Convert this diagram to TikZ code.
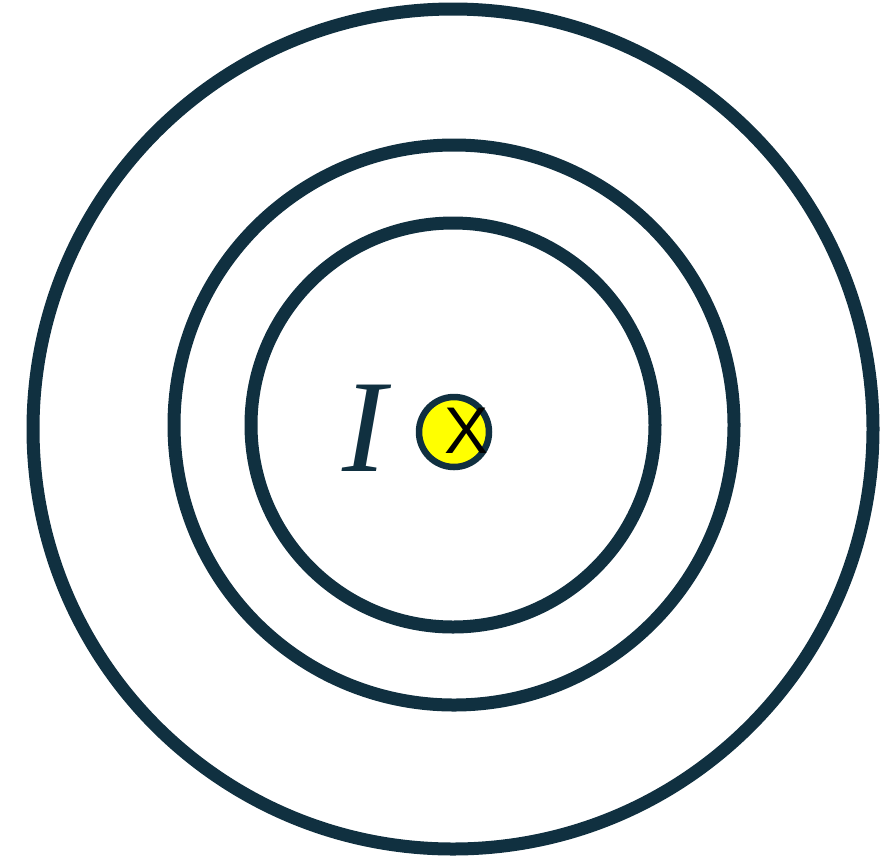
\documentclass[tikz,border=0pt]{standalone}
\usepackage{fontspec}
\usepackage{tikz}
\usetikzlibrary{positioning}
\definecolor{ringblue}{RGB}{16,48,64}
\definecolor{dotyellow}{RGB}{255,255,0}

\begin{document}
\begin{tikzpicture}[
  x=1pt, y=-1pt,
  ring/.style={draw=ringblue, circle, line width=13pt, inner sep=0pt},
  wire/.style={draw=ringblue, circle, line width=6.5pt, fill=dotyellow,
    inner sep=0pt, minimum size=70pt},
  lbl/.style={text=ringblue, inner sep=0pt}
]
\useasboundingbox (0,0) rectangle (896,863);

\node[ring, minimum size=840pt] (outer) at (453,429) {};
\node[ring, minimum size=560pt] (middle) at (454,425) {};
\node[ring, minimum size=404pt] (inner) at (453,425) {};

\node[wire] (dot) at (454,432) {};
\node[inner sep=0pt, font={\fontspec{Liberation Sans}\fontsize{66}{66}\selectfont}]
  (cross) at (467,431) {X};
\node[lbl, font={\fontspec{Liberation Serif}\fontsize{132}{132}\selectfont\itshape}]
  (cur) at (364,428) {I};
\end{tikzpicture}
\end{document}
